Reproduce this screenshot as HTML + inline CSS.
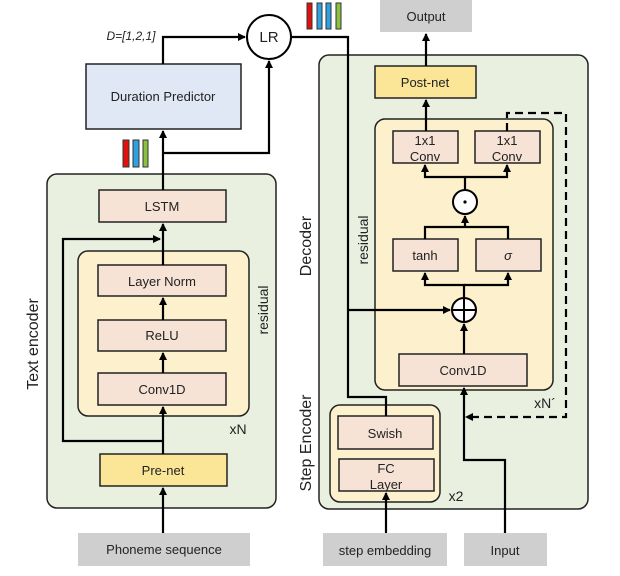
<!DOCTYPE html>
<html><head><meta charset="utf-8"><style>
html,body{margin:0;padding:0;background:#fff;}
svg{display:block;}
text{font-family:"Liberation Sans",sans-serif;fill:#222;}
</style></head><body>
<svg width="620" height="576" viewBox="0 0 620 576" xmlns="http://www.w3.org/2000/svg">
<defs>
<marker id="a" markerWidth="8" markerHeight="8" refX="7" refY="4" orient="auto" markerUnits="userSpaceOnUse">
<path d="M0,0 L8,4 L0,8 Z" fill="#000"/></marker>
</defs>
<g stroke="#222" stroke-width="1.5">
<!-- Text encoder -->
<rect x="47" y="174" width="229" height="334" rx="10" fill="#e9f0e0"/>
<rect x="78" y="251" width="171" height="165" rx="10" fill="#fdf0cc"/>
<rect x="99" y="190" width="127" height="32" fill="#f6e3d6"/>
<rect x="98" y="265" width="128" height="31" fill="#f6e3d6"/>
<rect x="98" y="320" width="128" height="31" fill="#f6e3d6"/>
<rect x="98" y="373" width="128" height="32" fill="#f6e3d6"/>
<rect x="100" y="454" width="127" height="32" fill="#fbe597"/>
<rect x="86" y="64" width="155" height="65" fill="#dfe8f4"/>
<!-- Decoder -->
<rect x="319" y="55" width="269" height="454" rx="10" fill="#e9f0e0"/>
<rect x="375" y="66" width="101" height="32" fill="#fbe597"/>
<rect x="375" y="119" width="178" height="271" rx="10" fill="#fdf0cc"/>
<rect x="393" y="131" width="65" height="32" fill="#f6e3d6"/>
<rect x="475" y="131" width="65" height="32" fill="#f6e3d6"/>
<rect x="393" y="239" width="65" height="32" fill="#f6e3d6"/>
<rect x="476" y="239" width="65" height="32" fill="#f6e3d6"/>
<rect x="399" y="354" width="128" height="32" fill="#f6e3d6"/>
<rect x="330" y="405" width="110" height="97" rx="10" fill="#fdf0cc"/>
<rect x="338" y="416" width="95" height="33" fill="#f6e3d6"/>
<rect x="339" y="459" width="95" height="32" fill="#f6e3d6"/>
</g>
<!-- gray boxes -->
<rect x="78" y="533" width="172" height="33" fill="#d0cfd0"/>
<rect x="323" y="533" width="124" height="33" fill="#d0cfd0"/>
<rect x="464" y="533" width="83" height="33" fill="#d0cfd0"/>
<rect x="380" y="0" width="92" height="32" fill="#d0cfd0"/>
<!-- bars -->
<g stroke="#333" stroke-width="1">
<rect x="123" y="140" width="6" height="27" fill="#e0100f"/>
<rect x="133" y="140" width="6" height="27" fill="#2fa0e0"/>
<rect x="143" y="140" width="5" height="27" fill="#8cc040"/>
<rect x="307" y="3" width="5" height="26" fill="#e0100f"/>
<rect x="317" y="3" width="5" height="26" fill="#2fa0e0"/>
<rect x="326" y="3" width="5" height="26" fill="#2fa0e0"/>
<rect x="336" y="3" width="5" height="26" fill="#8cc040"/>
</g>
<!-- connectors -->
<g stroke="#000" stroke-width="2.2" fill="none">
<line x1="163" y1="533" x2="163" y2="488" marker-end="url(#a)"/>
<line x1="163" y1="454" x2="163" y2="407" marker-end="url(#a)"/>
<line x1="163" y1="373" x2="163" y2="353" marker-end="url(#a)"/>
<line x1="163" y1="320" x2="163" y2="298" marker-end="url(#a)"/>
<line x1="163" y1="265" x2="163" y2="224" marker-end="url(#a)"/>
<polyline points="163,441 63,441 63,239 160,239" marker-end="url(#a)"/>
<line x1="163" y1="190" x2="163" y2="131" marker-end="url(#a)"/>
<polyline points="163,153 269,153 269,61" marker-end="url(#a)"/>
<polyline points="163,64 163,37 245,37" marker-end="url(#a)"/>
<polyline points="291,37 348,37 348,397 386,397 386,416"/>
<line x1="348" y1="310" x2="450" y2="310" marker-end="url(#a)"/>
<line x1="386" y1="533" x2="386" y2="493" marker-end="url(#a)"/>
<polyline points="505,533 505,460 464,460 464,388" marker-end="url(#a)"/>
<line x1="464" y1="354" x2="464" y2="324" marker-end="url(#a)"/>
<polyline points="464,298 464,285 425,285 425,273" marker-end="url(#a)"/>
<polyline points="464,285 508,285 508,273" marker-end="url(#a)"/>
<polyline points="425,239 425,227 465,227 508,227 508,239"/>
<line x1="465" y1="227" x2="465" y2="216" marker-end="url(#a)"/>
<polyline points="465,190 465,177 425,177 425,165" marker-end="url(#a)"/>
<polyline points="465,177 507,177 507,165" marker-end="url(#a)"/>
<line x1="426" y1="131" x2="426" y2="100" marker-end="url(#a)"/>
<line x1="426" y1="66" x2="426" y2="34" marker-end="url(#a)"/>
<polyline points="507,131 507,113 566,113 566,417 466,417" stroke-dasharray="8,5" marker-end="url(#a)"/>
</g>
<!-- circles -->
<g stroke="#000" stroke-width="2" fill="#fff">
<circle cx="269" cy="37" r="22"/>
<circle cx="465" cy="202" r="12"/>
<circle cx="464" cy="310" r="12"/>
</g>
<circle cx="465" cy="202" r="1.6" fill="#000"/>
<line x1="464" y1="298" x2="464" y2="322" stroke="#000" stroke-width="2"/>
<line x1="452" y1="310" x2="476" y2="310" stroke="#000" stroke-width="2"/>
<!-- text -->
<g font-size="13" text-anchor="middle">
<text x="269" y="42" font-size="15">LR</text>
<text x="163" y="101">Duration Predictor</text>
<text x="162" y="211">LSTM</text>
<text x="162" y="286">Layer Norm</text>
<text x="162" y="340">ReLU</text>
<text x="162" y="394">Conv1D</text>
<text x="163" y="475">Pre-net</text>
<text x="164" y="554">Phoneme sequence</text>
<text x="426" y="21">Output</text>
<text x="425" y="87">Post-net</text>
<text x="425" y="145">1x1</text><text x="425" y="161">Conv</text>
<text x="507" y="145">1x1</text><text x="507" y="161">Conv</text>
<text x="425" y="260">tanh</text>
<text x="508" y="260" font-style="italic">σ</text>
<text x="463" y="375">Conv1D</text>
<text x="385" y="438">Swish</text>
<text x="386" y="473">FC</text><text x="386" y="489">Layer</text>
<text x="385" y="555">step embedding</text>
<text x="505" y="555">Input</text>
<text x="131" y="40" font-style="italic" font-size="12">D=[1,2,1]</text>
<text x="238" y="434" font-size="14">xN</text>
<text x="545" y="408" font-size="14">xN´</text>
<text x="456" y="501" font-size="14">x2</text>
<text transform="translate(38,344) rotate(-90)" font-size="16">Text encoder</text>
<text transform="translate(268,310) rotate(-90)" font-size="14">residual</text>
<text transform="translate(311,246) rotate(-90)" font-size="16">Decoder</text>
<text transform="translate(311,443) rotate(-90)" font-size="16">Step Encoder</text>
<text transform="translate(368,240) rotate(-90)" font-size="14">residual</text>
</g>
</svg>
</body></html>
